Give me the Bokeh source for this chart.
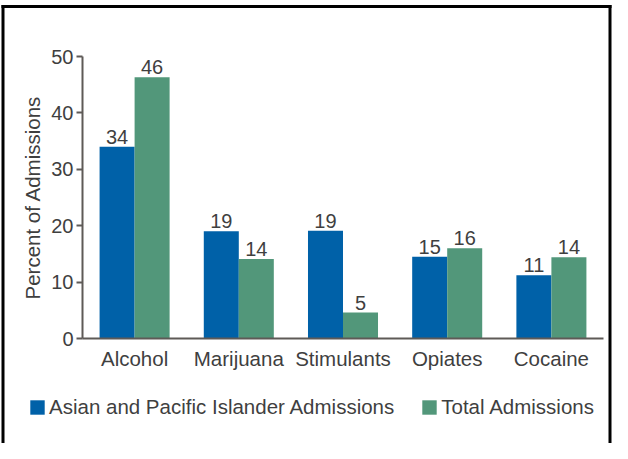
from bokeh.plotting import figure
from bokeh.models import ColumnDataSource, LabelSet, Legend, LegendItem, FixedTicker
from bokeh.core.properties import value
from bokeh.transform import dodge
from bokeh.embed import file_html
from bokeh.resources import INLINE

categories = ["Alcohol", "Marijuana", "Stimulants", "Opiates", "Cocaine"]
asian_values = [34.0, 19.0, 19.1, 14.5, 11.2]
total_values = [46.3, 14.1, 4.6, 16.0, 14.4]
asian_labels = ["34", "19", "19", "15", "11"]
total_labels = ["46", "14", "5", "16", "14"]
series_names = ["Asian and Pacific Islander Admissions", "Total Admissions"]
y_ticks = [0, 10, 20, 30, 40, 50]

FONT = "Liberation Sans"
TEXT = "#3f3f3f"
BLUE = "#0061a8"
GREEN = "#52977a"
AXIS = "#5e5a57"

# canvas size and where the category/value axes sit on it (pixels)
W, H = 612, 443
AX_LEFT, AX_RIGHT = 82, 603      # x = -0.5 ... 4.5
Y50, Y0 = 56, 338                # y = 50 ... 0
n = len(categories)
xpx = (AX_RIGHT - AX_LEFT) / n
ypx = (Y0 - Y50) / 50.0
x_start = -0.5 - AX_LEFT / xpx
x_end = -0.5 + (W - AX_LEFT) / xpx
y_end = 50 + Y50 / ypx
y_start = -(H - Y0) / ypx

def cx(px):
    return x_start + px / xpx

def cy(py):
    return y_end - py / ypx

pos = list(range(n))
src = ColumnDataSource(dict(x=pos, a=asian_values, t=total_values,
                            al=asian_labels, tl=total_labels))

# the plotting frame fills the whole canvas; axes sit at fixed positions inside it
p = figure(x_range=(x_start, x_end), y_range=(y_start, y_end),
           width=W, height=H, output_backend="svg", toolbar_location=None,
           min_border=0, min_border_left=0, min_border_right=0,
           min_border_top=0, min_border_bottom=0)

# outer frame line around the chart (its bottom edge lies below the picture)
p.segment(x0=[cx(2.5), cx(2.5), cx(W - 2.5)], y0=[cy(H + 20), cy(6), cy(6)],
          x1=[cx(2.5), cx(W - 2.5), cx(W - 2.5)], y1=[cy(6), cy(6), cy(H + 20)],
          line_color="black", line_width=3, line_cap="square")

ra = p.vbar(x=dodge("x", -0.168), top="a", width=0.336, source=src,
            fill_color=BLUE, line_color=None)
rt = p.vbar(x=dodge("x", 0.168), top="t", width=0.336, source=src,
            fill_color=GREEN, line_color=None)

for xoff, fld, lbl in [(-0.168, "a", "al"), (0.168, "t", "tl")]:
    ls = LabelSet(x=dodge("x", xoff), y=fld, text=lbl, source=src,
                  y_offset=3, text_align="center", text_baseline="bottom",
                  text_font=value(FONT), text_font_size=value("20px"),
                  text_color=value(TEXT))
    p.add_layout(ls)

p.xgrid.grid_line_color = None
p.ygrid.grid_line_color = None
p.outline_line_color = None

p.yaxis.fixed_location = -0.5
p.yaxis.bounds = (0, 50)
p.yaxis.ticker = FixedTicker(ticks=y_ticks, minor_ticks=[])
p.yaxis.axis_label = "Percent of Admissions"
p.yaxis.axis_label_text_font = FONT
p.yaxis.axis_label_text_font_size = "20.5px"
p.yaxis.axis_label_text_font_style = "normal"
p.yaxis.axis_label_text_color = TEXT
p.yaxis.axis_label_standoff = 4
p.yaxis.major_label_text_font = FONT
p.yaxis.major_label_text_font_size = "20px"
p.yaxis.major_label_text_color = TEXT
p.yaxis.major_tick_out = 6
p.yaxis.major_tick_in = 0
p.yaxis.minor_tick_line_color = None
p.yaxis.major_label_standoff = 3

for ax in (p.xaxis, p.yaxis):
    ax.axis_line_color = AXIS
    ax.axis_line_width = 2
    ax.major_tick_line_color = AXIS
    ax.major_tick_line_width = 2

p.xaxis.fixed_location = 0
p.xaxis.bounds = (-0.5, n - 0.5)
p.xaxis.ticker = FixedTicker(ticks=pos, minor_ticks=[])
p.xaxis.major_label_overrides = {i: c for i, c in zip(pos, categories)}
p.xaxis.major_tick_out = 0
p.xaxis.major_tick_in = 0
p.xaxis.minor_tick_line_color = None
p.xaxis.major_label_text_font = FONT
p.xaxis.major_label_text_font_size = "20.5px"
p.xaxis.major_label_text_color = TEXT
p.xaxis.major_label_standoff = 8

legend = Legend(items=[LegendItem(label=series_names[0], renderers=[ra]),
                       LegendItem(label=series_names[1], renderers=[rt])],
                orientation="horizontal", location=(28, H - 419),
                glyph_width=18, glyph_height=18, label_height=18, label_standoff=3,
                spacing=26, padding=0, margin=0, border_line_color=None,
                background_fill_alpha=0, label_text_font=FONT,
                label_text_font_size="20.5px", label_text_color=TEXT)
p.add_layout(legend)

open("out.html", "w").write(file_html(p, INLINE))
